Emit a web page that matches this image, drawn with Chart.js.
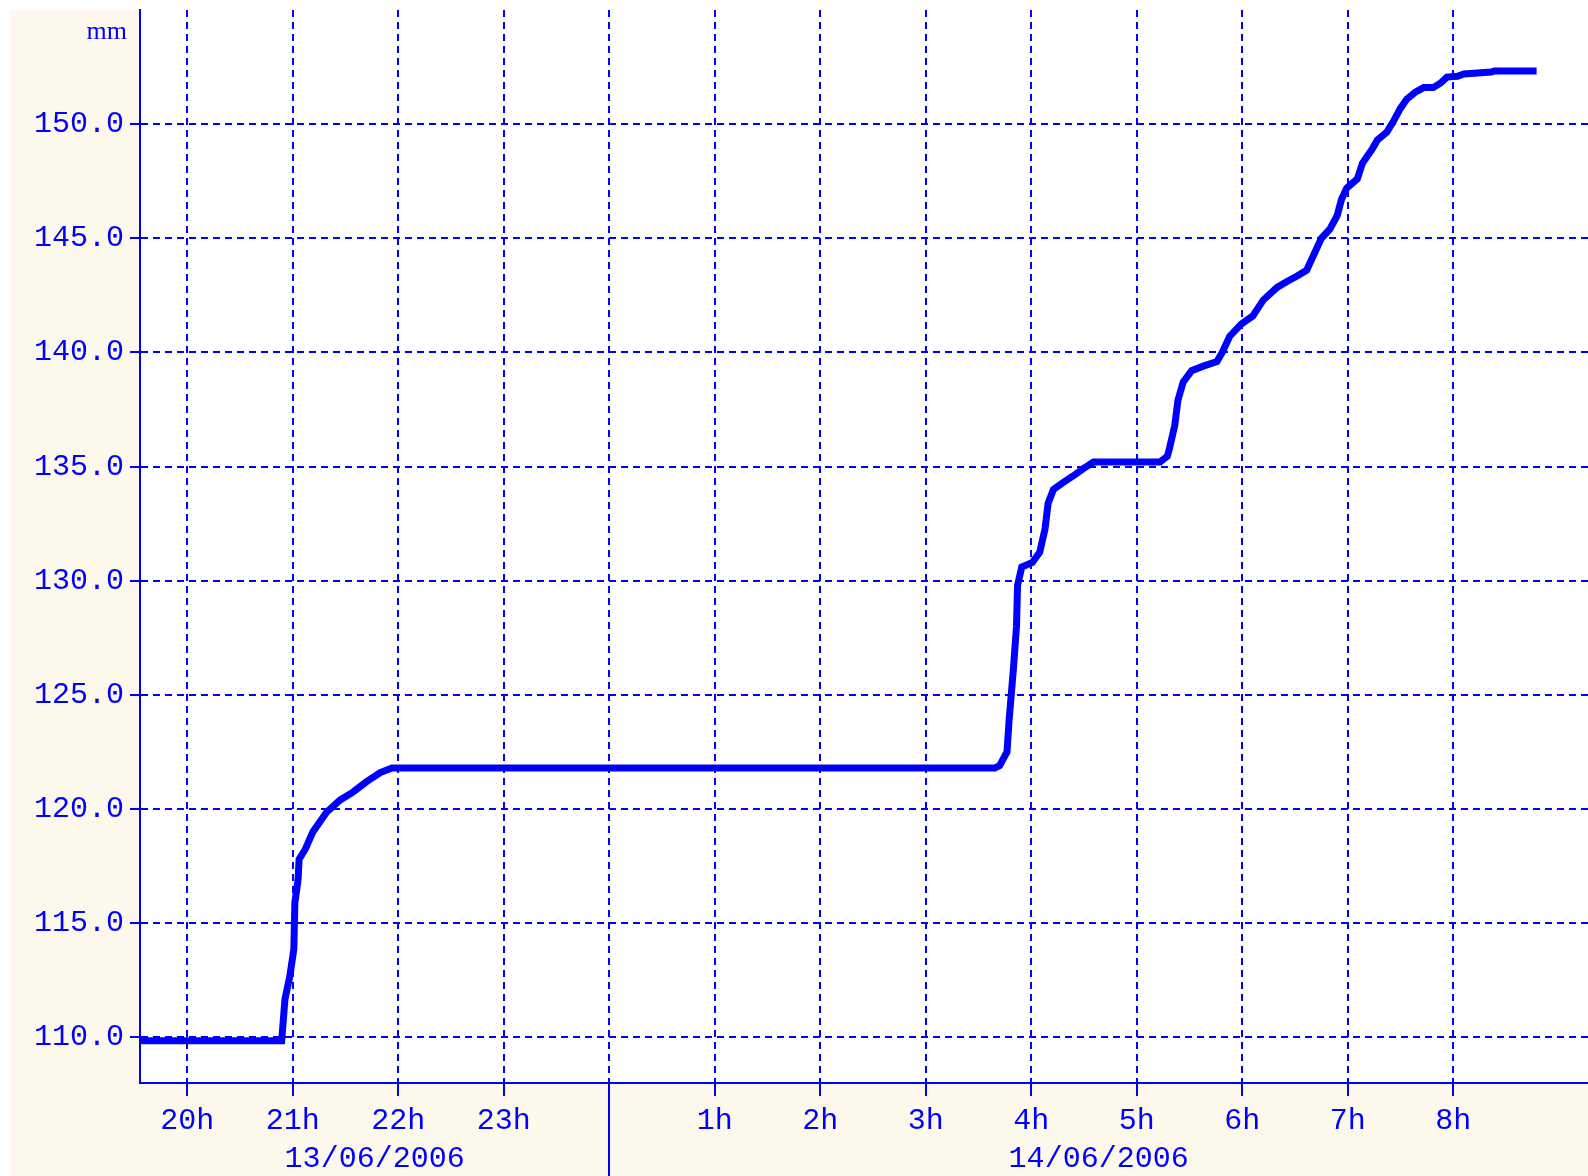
<!DOCTYPE html>
<html>
<head>
<meta charset="utf-8">
<script src="https://cdn.jsdelivr.net/npm/chart.js@4.4.0/dist/chart.umd.min.js"></script>
<style>
  html, body { margin: 0; padding: 0; background: #ffffff; }
  #wrap { width: 1588px; height: 1176px; }
</style>
</head>
<body>
<div id="wrap"><canvas id="rain-chart" width="1588" height="1176"></canvas></div>
<script>
'use strict';

// *********** DATA ****************

// hours counted from 13/06/2006 00:00 (24 = midnight, 32 = 8h next day)
let hourTicks = [20, 21, 22, 23, 24, 25, 26, 27, 28, 29, 30, 31, 32];
let valueTicks = [110, 115, 120, 125, 130, 135, 140, 145, 150];
let dayLabels = ['13/06/2006', '14/06/2006'];
let dayBreaks = [24];
let unitLabel = 'mm';

let times = [
  19.55, 20.895, 20.926, 20.973, 21.01, 21.02, 21.05, 21.06, 21.12, 21.19,
  21.32, 21.45, 21.57, 21.70, 21.83, 21.94, 27.656, 27.70, 27.77, 27.79,
  27.83, 27.86, 27.87, 27.91, 28.01, 28.08, 28.13, 28.16, 28.21, 28.30,
  28.40, 28.49, 28.59, 29.22, 29.29, 29.31, 29.36, 29.39, 29.44, 29.52,
  29.63, 29.76, 29.81, 29.88, 29.99, 30.10, 30.20, 30.33, 30.42, 30.52,
  30.61, 30.67, 30.75, 30.83, 30.90, 30.94, 30.99, 31.09, 31.14, 31.23,
  31.28, 31.37, 31.43, 31.50, 31.56, 31.64, 31.72, 31.81, 31.88, 31.94,
  32.04, 32.10, 32.36, 32.39, 32.79
];
let rainfall = [
  109.85, 109.85, 111.67, 112.7, 113.86, 115.9, 116.9, 117.8, 118.25, 119.0,
  119.86, 120.4, 120.74, 121.2, 121.6, 121.8, 121.8, 121.9, 122.5, 123.9,
  126.1, 128.0, 129.8, 130.6, 130.8, 131.25, 132.26, 133.4, 134.0, 134.3,
  134.6, 134.9, 135.2, 135.2, 135.45, 135.8, 136.8, 137.9, 138.7, 139.2,
  139.4, 139.6, 140.0, 140.7, 141.24, 141.6, 142.3, 142.85, 143.1, 143.35,
  143.6, 144.2, 145.0, 145.4, 146.0, 146.7, 147.2, 147.6, 148.3, 148.9,
  149.3, 149.65, 150.1, 150.7, 151.1, 151.4, 151.6, 151.6, 151.8, 152.06,
  152.1, 152.2, 152.28, 152.33, 152.33
];

// ********** STYLE ****************

let blue = '#0000ff';
let cream = '#fdf8ec';
let monoFont = { family: "'Liberation Mono', 'DejaVu Sans Mono', monospace", size: 30 };

// ********** PLUGINS ****************

// cream frame + white plot area
let backdrop = {
  id: 'backdrop',
  beforeDraw(chart) {
    let c = chart.ctx;
    let a = chart.chartArea;
    c.save();
    c.fillStyle = '#ffffff';
    c.fillRect(0, 0, chart.width, chart.height);
    c.fillStyle = cream;
    c.fillRect(10, 10, chart.width - 10, chart.height - 10);
    c.fillStyle = '#ffffff';
    c.fillRect(a.left, a.top, a.right - a.left, a.bottom - a.top);
    c.restore();
  }
};

// day separators, date labels and unit
let dayMarks = {
  id: 'dayMarks',
  afterDraw(chart) {
    let c = chart.ctx;
    let xs = chart.scales.x;
    let a = chart.chartArea;
    let edges = [xs.min].concat(dayBreaks, [xs.max]);
    c.save();
    c.strokeStyle = blue;
    c.lineWidth = 2;
    dayBreaks.forEach(function (d) {
      let px = Math.round(xs.getPixelForValue(d));
      c.beginPath();
      c.moveTo(px, a.bottom);
      c.lineTo(px, chart.height);
      c.stroke();
    });
    c.fillStyle = blue;
    c.font = monoFont.size + 'px ' + monoFont.family;
    c.textAlign = 'center';
    c.textBaseline = 'middle';
    for (let i = 0; i < dayLabels.length; i++) {
      let mid = (xs.getPixelForValue(edges[i]) + xs.getPixelForValue(edges[i + 1])) / 2;
      c.fillText(dayLabels[i], mid, 1159);
    }
    c.font = "26px 'Liberation Serif', serif";
    c.textAlign = 'right';
    c.textBaseline = 'alphabetic';
    c.fillText(unitLabel, a.left - 13, 39);
    c.restore();
  }
};

// ********** CHART ****************

let points = times.map(function (t, i) {
  return { x: t, y: rainfall[i] };
});

let ctx = document.getElementById('rain-chart').getContext('2d');

new Chart(ctx, {
  type: 'line',
  data: {
    datasets: [{
      data: points,
      borderColor: blue,
      borderWidth: 7,
      pointRadius: 0,
      tension: 0,
      fill: false
    }]
  },
  options: {
    responsive: false,
    animation: false,
    devicePixelRatio: 1,
    layout: { padding: { left: 10, top: 10, right: 0, bottom: 0 } },
    plugins: {
      legend: { display: false },
      tooltip: { enabled: false }
    },
    scales: {
      x: {
        type: 'linear',
        min: 19.552,
        max: 33.277,
        afterBuildTicks: function (scale) {
          scale.ticks = hourTicks.map(function (v) { return { value: v }; });
        },
        afterFit: function (scale) {
          scale.height = 93;
          scale.paddingLeft = 0;
          scale.paddingRight = 0;
        },
        ticks: {
          color: blue,
          font: monoFont,
          padding: 7,
          maxRotation: 0,
          autoSkip: false,
          callback: function (v) { return v === 24 ? '' : (v % 24) + 'h'; }
        },
        grid: {
          color: blue,
          lineWidth: 2,
          tickLength: 13,
          tickColor: blue,
          tickWidth: 2,
          tickBorderDash: []
        },
        border: { color: blue, width: 2, dash: [7, 5] }
      },
      y: {
        min: 108,
        max: 155,
        afterBuildTicks: function (scale) {
          scale.ticks = valueTicks.map(function (v) { return { value: v }; });
        },
        afterFit: function (scale) {
          scale.width = 130;
          scale.paddingTop = 0;
          scale.paddingBottom = 0;
        },
        ticks: {
          color: blue,
          font: monoFont,
          padding: 6,
          callback: function (v) { return v.toFixed(1); }
        },
        grid: {
          color: blue,
          lineWidth: 2,
          tickLength: 10,
          tickColor: blue,
          tickWidth: 2,
          tickBorderDash: []
        },
        border: { color: blue, width: 2, dash: [7, 5] }
      }
    }
  },
  plugins: [backdrop, dayMarks]
});
</script>
</body>
</html>
